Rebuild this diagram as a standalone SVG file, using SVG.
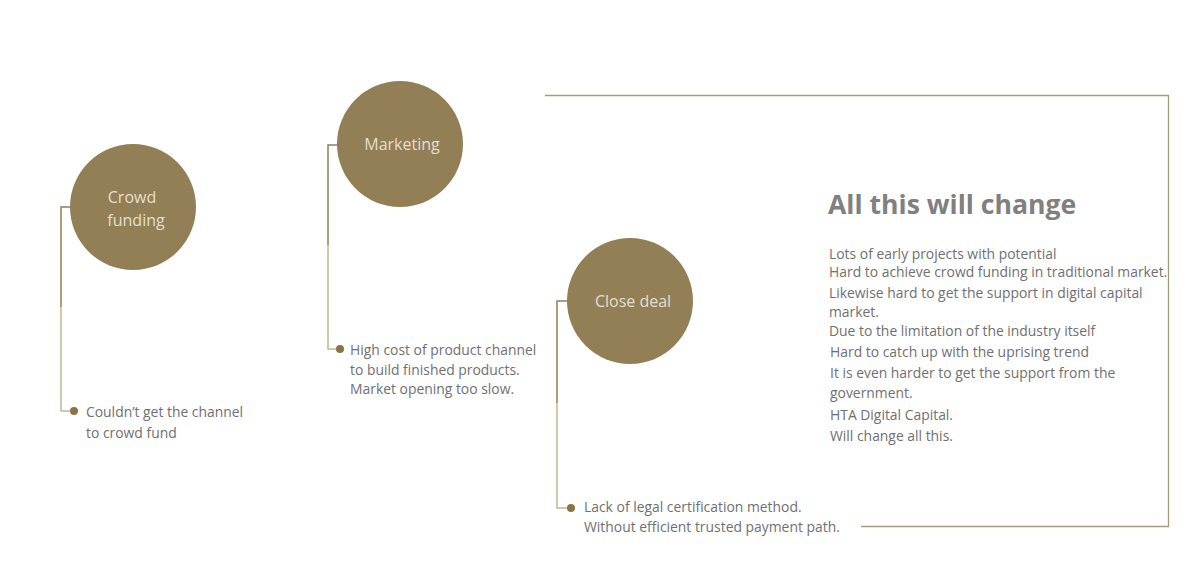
<svg xmlns="http://www.w3.org/2000/svg" width="1193" height="567" viewBox="0 0 1193 567">
<defs>
<style>
.circ{fill:#927f55}
.clab{font-family:"Open Sans","Liberation Sans",sans-serif;font-size:16px;fill:#e6decf;text-anchor:middle}
.txt{font-family:"Open Sans","Liberation Sans",sans-serif;font-size:13.9px;fill:#707070}
.title{font-family:"Open Sans","Liberation Sans",sans-serif;font-size:26.6px;font-weight:bold;fill:#808080}
.lnTop{stroke:#927f55;stroke-width:1.5;fill:none}
.lnBot{stroke:#c4b697;stroke-width:1.5;fill:none}
.dot{fill:#8a7446}
.box{stroke:#a89a78;stroke-width:1.3;fill:none}
</style>
</defs>
<rect width="1193" height="567" fill="#ffffff"/>
<g id="connectors">
<path class="lnTop" d="M93,207 H61 V307"/>
<path class="lnBot" d="M61,307 V411 H72"/>
<path class="lnTop" d="M363,145 H328 V245"/>
<path class="lnBot" d="M328,245 V349 H338"/>
<path class="lnTop" d="M593,301 H557 V403"/>
<path class="lnBot" d="M557,403 V508 H568"/>
<circle class="dot" cx="74" cy="411" r="4"/>
<circle class="dot" cx="340" cy="349" r="4"/>
<circle class="dot" cx="571" cy="508" r="4"/>
</g>
<g id="node-crowd">
<circle class="circ" cx="133" cy="207" r="63"/>
<text class="clab" x="132" y="203">Crowd</text>
<text class="clab" x="136" y="226">funding</text>
</g>
<g id="node-marketing">
<circle class="circ" cx="400" cy="144" r="63"/>
<text class="clab" x="402" y="150">Marketing</text>
</g>
<g id="node-close">
<circle class="circ" cx="630" cy="301" r="63"/>
<text class="clab" x="633" y="307">Close deal</text>
</g>
<g id="note-crowd">
<text class="txt" x="86" y="417">Couldn’t get the channel</text>
<text class="txt" x="86" y="438">to crowd fund</text>
</g>
<g id="note-marketing">
<text class="txt" x="350" y="355">High cost of product channel</text>
<text class="txt" x="350" y="375">to build finished products.</text>
<text class="txt" x="350" y="394">Market opening too slow.</text>
</g>
<g id="note-close">
<text class="txt" x="584" y="512">Lack of legal certification method.</text>
<text class="txt" x="584" y="532">Without efficient trusted payment path.</text>
</g>
<g id="box">
<path class="box" d="M545,95.5 H1168.5 V526.5 H861"/>
<text class="title" x="828" y="214">All this will change</text>
<text class="txt" x="829" y="259">Lots of early projects with potential</text>
<text class="txt" x="829" y="277">Hard to achieve crowd funding in traditional market.</text>
<text class="txt" x="829" y="298">Likewise hard to get the support in digital capital</text>
<text class="txt" x="829" y="317">market.</text>
<text class="txt" x="829" y="336">Due to the limitation of the industry itself</text>
<text class="txt" x="830" y="357">Hard to catch up with the uprising trend</text>
<text class="txt" x="830" y="378">It is even harder to get the support from the</text>
<text class="txt" x="830" y="398">government.</text>
<text class="txt" x="830" y="420">HTA Digital Capital.</text>
<text class="txt" x="830" y="441">Will change all this.</text>
</g>
</svg>
